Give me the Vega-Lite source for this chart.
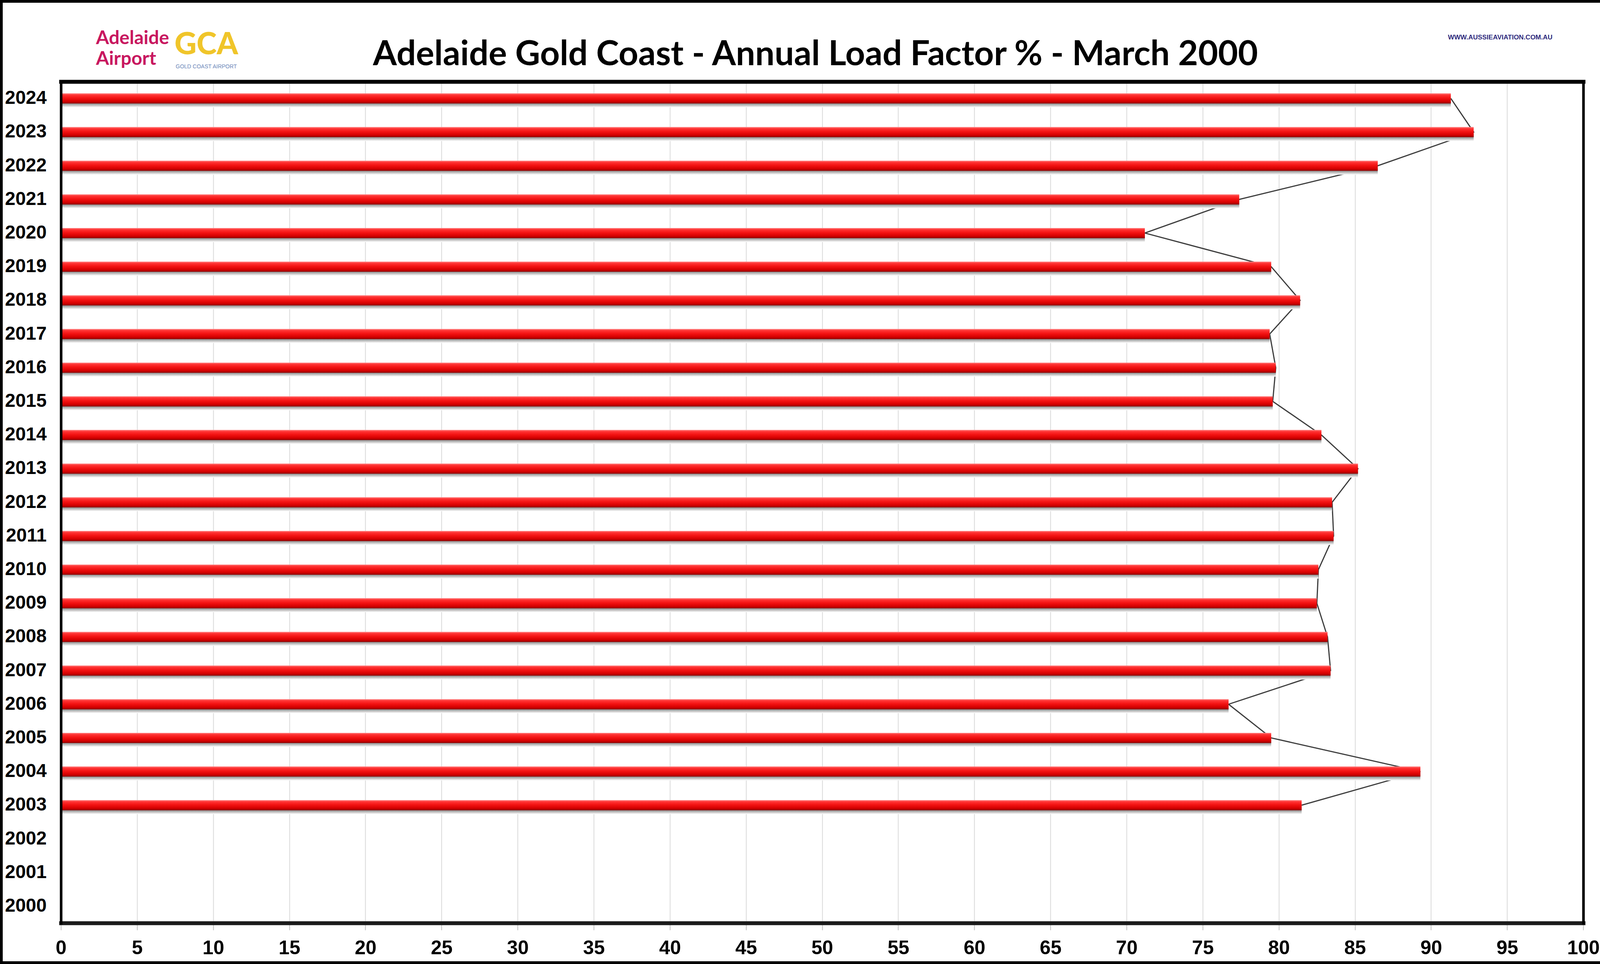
{
  "$schema": "https://vega.github.io/schema/vega-lite/v6.json",
  "width": 4175,
  "height": 2469,
  "autosize": {"type": "none"},
  "padding": 0,
  "background": "white",
  "title": {
    "text": "Adelaide Gold Coast - Annual Load Factor % - March 2000",
    "font": "Lato",
    "fontSize": 88,
    "fontWeight": "bold",
    "color": "black",
    "anchor": "middle",
    "frame": "group",
    "baseline": "alphabetic",
    "offset": -255
  },
  "data": {
    "values": [
      {"Year": "2003", "LF": 81.5},
      {"Year": "2004", "LF": 89.3},
      {"Year": "2005", "LF": 79.5},
      {"Year": "2006", "LF": 76.7},
      {"Year": "2007", "LF": 83.4},
      {"Year": "2008", "LF": 83.2},
      {"Year": "2009", "LF": 82.5},
      {"Year": "2010", "LF": 82.6},
      {"Year": "2011", "LF": 83.6},
      {"Year": "2012", "LF": 83.5},
      {"Year": "2013", "LF": 85.2},
      {"Year": "2014", "LF": 82.8},
      {"Year": "2015", "LF": 79.6},
      {"Year": "2016", "LF": 79.8},
      {"Year": "2017", "LF": 79.4},
      {"Year": "2018", "LF": 81.4},
      {"Year": "2019", "LF": 79.5},
      {"Year": "2020", "LF": 71.2},
      {"Year": "2021", "LF": 77.4},
      {"Year": "2022", "LF": 86.5},
      {"Year": "2023", "LF": 92.8},
      {"Year": "2024", "LF": 91.3}
    ]
  },
  "layer": [
    {
      "mark": {"type": "line", "stroke": "#3c3c3c", "strokeWidth": 3},
      "encoding": {
        "order": {"field": "Year", "type": "ordinal"},
        "x": {
          "field": "LF", "type": "quantitative",
          "scale": {"domain": [0, 100], "range": [156.0, 4053.2], "nice": false},
          "axis": {
            "orient": "bottom", "offset": -105,
            "values": [0,5,10,15,20,25,30,35,40,45,50,55,60,65,70,75,80,85,90,95,100],
            "grid": false,
            "domain": true, "domainColor": "#1a1a1a", "domainWidth": 10, "domainCap": "square",
            "ticks": true, "tickColor": "#bfbfbf", "tickSize": 18, "tickWidth": 2,
            "labelFont": "Liberation Sans", "labelFontSize": 50, "labelFontWeight": "bold",
            "labelColor": "black", "labelPadding": 21, "labelFlush": false, "labelOverlap": false,
            "title": "GOLD COAST AIRPORT", "titleX": 527.6, "titleY": -2190,
            "titleAlign": "center", "titleBaseline": "alphabetic", "titleAnchor": null,
            "titleFont": "Liberation Sans", "titleFontSize": 14, "titleFontWeight": "normal", "titleColor": "#6a86b8",
            "zindex": 1
          }
        },
        "y": {
          "field": "Year", "type": "ordinal",
          "scale": {
            "domain": ["2024","2023","2022","2021","2020","2019","2018","2017","2016","2015","2014","2013","2012","2011","2010","2009","2008","2007","2006","2005","2004","2003","2002","2001","2000"],
            "range": [209, 2364], "paddingInner": 0, "paddingOuter": 0
          },
          "axis": {
            "orient": "left", "offset": -156.0,
            "domain": true, "domainColor": "black", "domainWidth": 6.6, "domainCap": "square",
            "ticks": false, "grid": false,
            "labelFont": "Liberation Sans", "labelFontWeight": "bold", "labelFontSize": 48,
            "labelPadding": 37, "labelColor": "black",
            "title": ["Adelaide", "Airport"], "titleAngle": 0, "titleX": 89.3, "titleY": 112,
            "titleAlign": "left", "titleBaseline": "alphabetic", "titleAnchor": null,
            "titleFont": "Lato", "titleFontWeight": "bold", "titleFontSize": 48, "titleLineHeight": 53,
            "titleColor": "#c8175f",
            "zindex": 1
          }
        }
      }
    },
    {
      "mark": {
        "type": "bar", "height": 22, "yOffset": 12,
        "fill": {"gradient": "linear", "x1": 0, "y1": 0, "x2": 0, "y2": 1,
          "stops": [{"offset": 0, "color": "#6e6e6e"}, {"offset": 0.55, "color": "#8e8e8e"}, {"offset": 1, "color": "#ffffff"}]}
      },
      "encoding": {
        "x": {
          "field": "LF", "type": "quantitative",
          "axis": {
            "orient": "top", "offset": -209,
            "values": [0,5,10,15,20,25,30,35,40,45,50,55,60,65,70,75,80,85,90,95,100],
            "domain": true, "domainColor": "black", "domainWidth": 10, "domainCap": "square",
            "ticks": true, "tickSize": -2155, "tickColor": "#d9d9d9", "tickWidth": 2,
            "labels": false, "grid": false,
            "title": "WWW.AUSSIEAVIATION.COM.AU", "titleX": 3840, "titleY": -109,
            "titleAlign": "center", "titleBaseline": "alphabetic", "titleAnchor": null,
            "titleFont": "Liberation Sans", "titleFontSize": 17, "titleFontWeight": "bold", "titleColor": "#2e2a7c",
            "zindex": 0
          }
        },
        "y": {"field": "Year", "type": "ordinal", "axis": null}
      }
    },
    {
      "mark": {
        "type": "bar", "height": 26,
        "fill": {"gradient": "linear", "x1": 0, "y1": 0, "x2": 0, "y2": 1,
          "stops": [{"offset": 0, "color": "#ff8a8a"}, {"offset": 0.15, "color": "#ff3535"}, {"offset": 0.45, "color": "#f41414"}, {"offset": 0.8, "color": "#d40000"}, {"offset": 1, "color": "#8e0000"}]}
      },
      "encoding": {
        "x": {"field": "LF", "type": "quantitative", "axis": null},
        "y": {
          "field": "Year", "type": "ordinal",
          "axis": {
            "orient": "right", "offset": -121.8,
            "domain": true, "domainColor": "black", "domainWidth": 6.6, "domainCap": "square",
            "ticks": false, "labels": false, "grid": false,
            "title": "GCA", "titleX": -3525.6, "titleY": 138, "titleAngle": 0,
            "titleAlign": "center", "titleBaseline": "alphabetic", "titleAnchor": null,
            "titleFont": "Lato", "titleFontWeight": 900, "titleFontSize": 78, "titleColor": "#f0c52a",
            "zindex": 1
          }
        }
      }
    }
  ],
  "resolve": {"axis": {"x": "independent", "y": "independent"}},
  "config": {
    "view": {"stroke": "black", "strokeWidth": 14, "fill": "white"}
  }
}
